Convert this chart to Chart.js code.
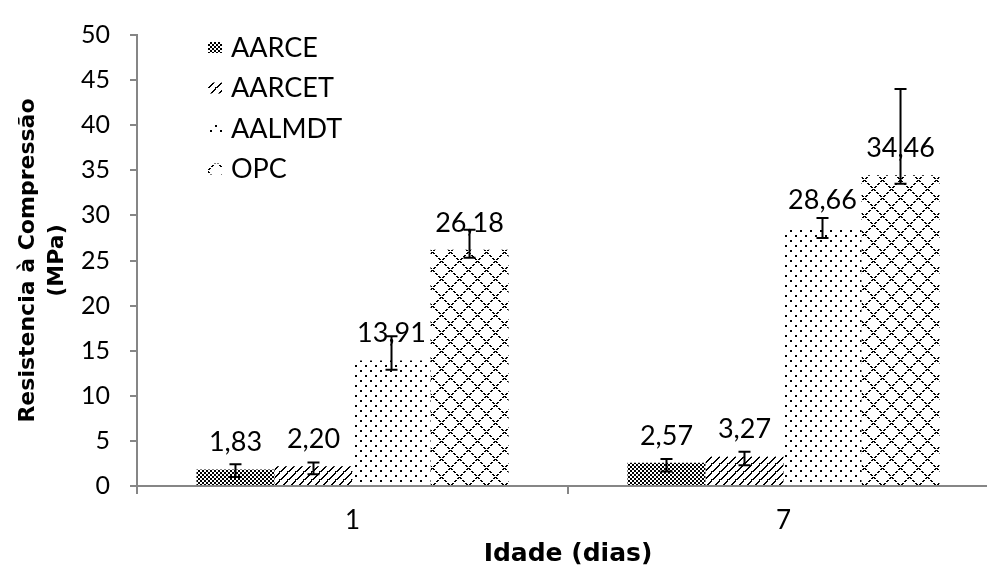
<!DOCTYPE html>
<html>
<head>
<meta charset="utf-8">
<script src="https://cdn.jsdelivr.net/npm/chart.js@4/dist/chart.umd.min.js"></script>
<style>
  body { margin: 0; overflow: hidden; background: #fff; }
  #wrap { width: 1000px; height: 569px; }
</style>
</head>
<body>
<div id="wrap"><canvas id="chart" width="1000" height="569"></canvas></div>
<script>
// data
let idades = ['1', '7'];
let seriesNames = ['AARCE', 'AARCET', 'AALMDT', 'OPC'];
let aarce = [1.83, 2.57];
let aarcet = [2.20, 3.27];
let aalmdt = [13.91, 28.66];
let opc = [26.18, 34.46];
// error bar ends (absolute values)
let errLow = [[1.0, 1.6], [1.3, 2.3], [12.9, 27.5], [25.3, 33.5]];
let errHigh = [[2.4, 3.0], [2.6, 3.8], [16.6, 29.7], [28.4, 44.0]];
let yTicks = [0, 5, 10, 15, 20, 25, 30, 35, 40, 45, 50];

function makePattern(size, draw) {
  let c = document.createElement('canvas');
  c.width = size;
  c.height = size;
  let g = c.getContext('2d');
  g.fillStyle = '#fff';
  g.fillRect(0, 0, size, size);
  g.fillStyle = '#000';
  draw(g, size);
  return document.getElementById('chart').getContext('2d').createPattern(c, 'repeat');
};

// small checker board
let patChecker = makePattern(4, function(g) {
  g.fillRect(0, 0, 2, 2);
  g.fillRect(2, 2, 2, 2);
});

// wide upward diagonal
let patDiag = makePattern(8, function(g, s) {
  for (let i = 0; i < s; i++) {
    g.fillRect(s - 1 - i, i, 2, 1);
  };
  g.fillRect(s - 1, s - 1, 1, 1);
});

// dotted grid
let patDots = makePattern(10, function(g) {
  g.fillRect(0, 0, 2, 2);
  g.fillRect(5, 5, 2, 2);
});

// diamond lattice
let patDiamond = makePattern(18, function(g, s) {
  for (let i = 0; i < s; i++) {
    if (i % 3 == 2) continue;
    g.fillRect(i, i, 2, 1);
    g.fillRect(s - 1 - i, i, 2, 1);
  };
});

let patterns = [patChecker, patDiag, patDots, patDiamond];
let values = [aarce, aarcet, aalmdt, opc];

function fmt(v) {
  return v.toFixed(2).replace('.', ',');
};

let labelPlugin = {
  id: 'labelsAndErrors',
  afterDatasetsDraw(chart) {
    let ctx = chart.ctx;
    let y = chart.scales.y;
    ctx.save();
    ctx.font = '27px Lato';
    ctx.fillStyle = '#000';
    ctx.textAlign = 'center';
    ctx.textBaseline = 'middle';
    chart.data.datasets.forEach(function(ds, d) {
      chart.getDatasetMeta(d).data.forEach(function(bar, i) {
        ctx.fillText(fmt(ds.data[i]), bar.x, bar.y - 27);
      });
    });
    ctx.strokeStyle = '#000';
    ctx.lineWidth = 2;
    chart.data.datasets.forEach(function(ds, d) {
      chart.getDatasetMeta(d).data.forEach(function(bar, i) {
        let top = y.getPixelForValue(errHigh[d][i]);
        let bot = y.getPixelForValue(errLow[d][i]);
        ctx.beginPath();
        ctx.moveTo(bar.x, top);
        ctx.lineTo(bar.x, bot);
        ctx.moveTo(bar.x - 6, top);
        ctx.lineTo(bar.x + 6, top);
        ctx.moveTo(bar.x - 6, bot);
        ctx.lineTo(bar.x + 6, bot);
        ctx.stroke();
      });
    });
    ctx.restore();
  }
};

let legendPlugin = {
  id: 'boxLegend',
  afterDraw(chart) {
    let ctx = chart.ctx;
    ctx.save();
    ctx.font = '27px Lato';
    ctx.textBaseline = 'middle';
    ctx.textAlign = 'left';
    seriesNames.forEach(function(name, i) {
      let cy = 47 + i * 40.5;
      ctx.fillStyle = patterns[i];
      ctx.fillRect(208, cy - 5, 14, 11);
      ctx.fillStyle = '#000';
      ctx.fillText(name, 231, cy + 1);
    });
    ctx.restore();
  }
};

let datasets = [];
for (let i = 0; i < seriesNames.length; i++) {
  datasets.push({
    label: seriesNames[i],
    data: values[i],
    backgroundColor: patterns[i],
    borderWidth: 0
  });
};

Chart.defaults.font.family = 'Lato';
Chart.defaults.color = '#000';

new Chart(document.getElementById('chart'), {
  type: 'bar',
  data: { labels: idades, datasets: datasets },
  plugins: [labelPlugin, legendPlugin],
  options: {
    responsive: false,
    animation: false,
    categoryPercentage: 0.724,
    barPercentage: 1,
    layout: { padding: { top: 25, right: 1, left: 0, bottom: 0 } },
    plugins: {
      legend: { display: false },
      tooltip: { enabled: false }
    },
    scales: {
      x: {
        afterFit: function(s) { s.height = 83; },
        border: { color: '#868686', width: 2 },
        grid: { drawOnChartArea: false, tickLength: 8, color: '#868686', lineWidth: 2 },
        ticks: { font: { size: 26 }, padding: 11 },
        title: {
          display: true,
          text: 'Idade (dias)',
          font: { family: 'DejaVu Sans', size: 25, weight: 'bold' },
          padding: { top: 0, bottom: 0 }
        }
      },
      y: {
        min: 0,
        max: 50,
        afterFit: function(s) { s.width = 137; },
        afterBuildTicks: function(s) { s.ticks = yTicks.map(function(v) { return { value: v }; }); },
        border: { color: '#868686', width: 2 },
        grid: { drawOnChartArea: false, tickLength: 7, color: '#868686', lineWidth: 2 },
        ticks: { font: { size: 25 }, padding: 20 },
        title: {
          display: true,
          text: ['Resistencia à Compressão', '(MPa)'],
          font: { family: 'DejaVu Sans', size: 22, weight: 'bold', lineHeight: 1.35 },
          padding: { top: 13, bottom: 0 }
        }
      }
    }
  }
});
</script>
</body>
</html>
